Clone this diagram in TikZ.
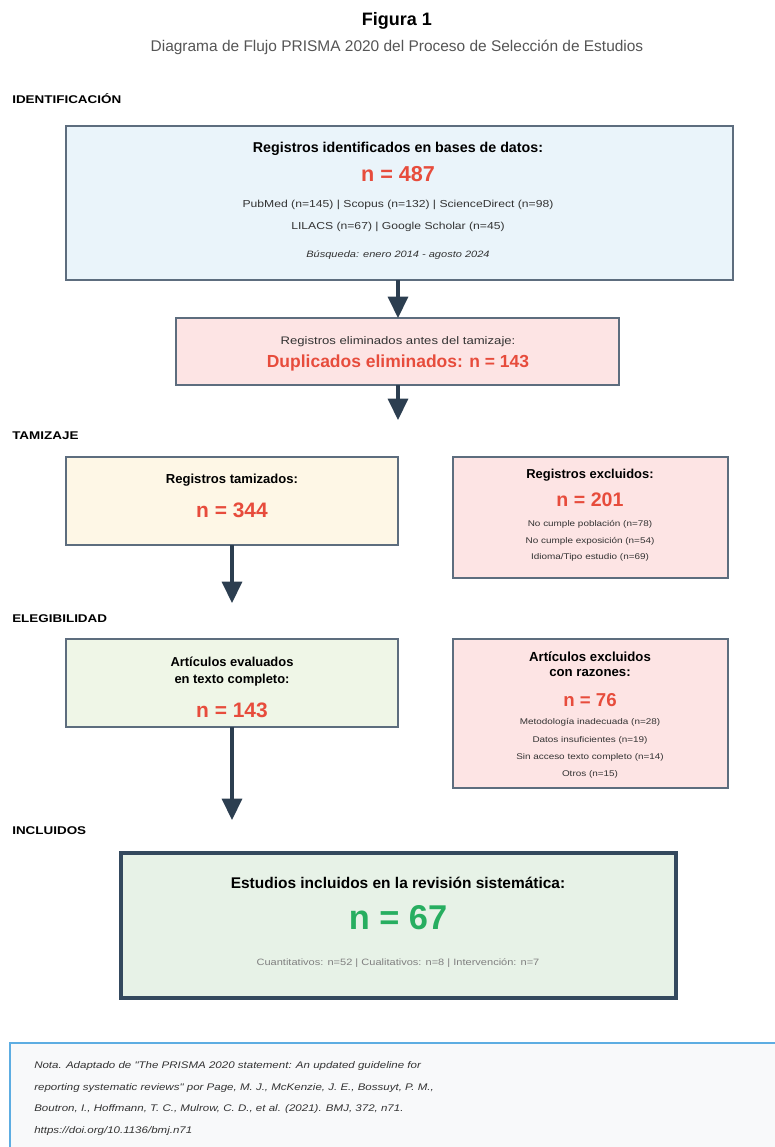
\documentclass[tikz,border=0pt]{standalone}
\usepackage{fontspec}
\setmainfont{Liberation Sans}
\newfontfamily\widefont[FakeStretch=1.2]{Liberation Sans}
\usetikzlibrary{arrows.meta}
\definecolor{bordc}{HTML}{5D6D7E}
\definecolor{blfill}{HTML}{EAF4FA}
\definecolor{pkfill}{HTML}{FDE4E4}
\definecolor{crfill}{HTML}{FEF7E6}
\definecolor{gnfill}{HTML}{EFF6E7}
\definecolor{incfill}{HTML}{E7F2E7}
\definecolor{redn}{HTML}{E74C3C}
\definecolor{greenn}{HTML}{27AE60}
\definecolor{arrc}{HTML}{2C3E50}
\definecolor{incbord}{HTML}{34495E}
\definecolor{notefill}{HTML}{F8F9FA}
\definecolor{notebord}{HTML}{5DADE2}
\definecolor{subgray}{HTML}{555555}
\definecolor{txtgray}{HTML}{333333}
\newcommand{\fs}[1]{\fontsize{#1}{#1}\selectfont}
\tikzset{
  box/.style={draw=bordc, line width=1.6pt},
  flowarrow/.style={draw=arrc, line width=2.6pt, -{Triangle[width=15pt,length=16pt]}},
  seclabel/.style={anchor=west, inner sep=0pt, font=\widefont\bfseries\fs{8.4pt}, text=black},
  txt/.style={anchor=center, inner sep=0pt},
  small/.style={txt, font=\widefont\fs{6.2pt}, text=txtgray},
  notetxt/.style={anchor=west, inner sep=0pt, font=\widefont\itshape\fs{7.2pt}, text=txtgray},
}
\begin{document}
\begin{tikzpicture}[x=0.75pt,y=-0.75pt]
\useasboundingbox (0,0) rectangle (775,1147);
% title
\node[txt, font=\bfseries\fs{13.5pt}] (title) at (397,21) {Figura 1};
\node[txt, font=\fs{11.6pt}, text=subgray] (subtitle) at (397,47) {Diagrama de Flujo PRISMA 2020 del Proceso de Selección de Estudios};

% section labels
\node[seclabel] (lid) at (12,99) {IDENTIFICACIÓN};
\node[seclabel] (ltam) at (12,436) {TAMIZAJE};
\node[seclabel] (leleg) at (12,619) {ELEGIBILIDAD};
\node[seclabel] (linc) at (12,831) {INCLUIDOS};

% box 1
\path[box, fill=blfill] (66,126) rectangle (733,280);
\coordinate (b1s) at (398,280);
\node[txt, font=\bfseries\fs{10.7pt}] (b1t) at (398,149) {Registros identificados en bases de datos:};
\node[txt, font=\bfseries\fs{16.2pt}, text=redn] (b1n) at (398,174) {n = 487};
\node[txt, font=\widefont\fs{7.6pt}, text=txtgray] (b1a) at (398,205) {PubMed (n=145) | Scopus (n=132) | ScienceDirect (n=98)};
\node[txt, font=\widefont\fs{7.6pt}, text=txtgray] (b1b) at (398,227) {LILACS (n=67) | Google Scholar (n=45)};
\node[txt, font=\widefont\itshape\fs{6.9pt}, text=txtgray] (b1c) at (398,255) {Búsqueda: enero 2014 - agosto 2024};

% box 2
\path[box, fill=pkfill] (176,318) rectangle (619,385);
\coordinate (b2n) at (398,318);
\coordinate (b2s) at (398,385);
\node[txt, font=\widefont\fs{8.2pt}, text=txtgray] (b2t) at (398,342) {Registros eliminados antes del tamizaje:};
\node[txt, font=\bfseries\fs{13.1pt}, text=redn] (b2n2) at (398,363) {Duplicados eliminados: n = 143};
\coordinate (a2end) at (398,420);

% box 3
\path[box, fill=crfill] (66,457) rectangle (398,545);
\coordinate (b3s) at (232,545);
\node[txt, font=\bfseries\fs{9.8pt}] (b3t) at (232,480) {Registros tamizados:};
\node[txt, font=\bfseries\fs{15.7pt}, text=redn] (b3n) at (232,510) {n = 344};
\coordinate (a3end) at (232,603);

% box 4
\path[box, fill=pkfill] (453,457) rectangle (728,578);
\node[txt, font=\bfseries\fs{9.7pt}] (b4t) at (590,475) {Registros excluidos:};
\node[txt, font=\bfseries\fs{14.7pt}, text=redn] (b4n) at (590,500) {n = 201};
\node[small] (b4a) at (590,524) {No cumple población (n=78)};
\node[small] (b4b) at (590,541) {No cumple exposición (n=54)};
\node[small] (b4c) at (590,557) {Idioma/Tipo estudio (n=69)};

% box 5
\path[box, fill=gnfill] (66,639) rectangle (398,727);
\coordinate (b5s) at (232,727);
\node[txt, font=\bfseries\fs{9.7pt}] (b5t) at (232,662) {Artículos evaluados};
\node[txt, font=\bfseries\fs{9.7pt}] (b5u) at (232,680) {en texto completo:};
\node[txt, font=\bfseries\fs{15.7pt}, text=redn] (b5n) at (232,710) {n = 143};
\coordinate (a5end) at (232,820);

% box 6
\path[box, fill=pkfill] (453,639) rectangle (728,788);
\node[txt, font=\bfseries\fs{9.9pt}] (b6t) at (590,657) {Artículos excluidos};
\node[txt, font=\bfseries\fs{9.9pt}] (b6u) at (590,673) {con razones:};
\node[txt, font=\bfseries\fs{14pt}, text=redn] (b6n) at (590,700) {n = 76};
\node[small] (b6a) at (590,722) {Metodología inadecuada (n=28)};
\node[small] (b6b) at (590,740) {Datos insuficientes (n=19)};
\node[small] (b6c) at (590,757) {Sin acceso texto completo (n=14)};
\node[small] (b6d) at (590,774) {Otros (n=15)};

% box 7
\path[draw=incbord, line width=2.4pt, fill=incfill] (121,853) rectangle (676,998);
\node[txt, font=\bfseries\fs{11.6pt}] (b7t) at (398,883) {Estudios incluidos en la revisión sistemática:};
\node[txt, font=\bfseries\fs{25.8pt}, text=greenn] (b7n) at (398,918) {n = 67};
\node[txt, font=\widefont\fs{6.9pt}, text=gray] (b7a) at (398,963) {Cuantitativos: n=52 | Cualitativos: n=8 | Intervención: n=7};

% arrows
\draw[flowarrow] (b1s) -- (b2n);
\draw[flowarrow] (b2s) -- (a2end);
\draw[flowarrow] (b3s) -- (a3end);
\draw[flowarrow] (b5s) -- (a5end);

% note
\path[draw=notebord, line width=1.5pt, fill=notefill] (10,1043) rectangle (790,1160);
\node[notetxt] (n1) at (34,1066) {Nota. Adaptado de "The PRISMA 2020 statement: An updated guideline for};
\node[notetxt] (n2) at (34,1088) {reporting systematic reviews" por Page, M. J., McKenzie, J. E., Bossuyt, P. M.,};
\node[notetxt] (n3) at (34,1109) {Boutron, I., Hoffmann, T. C., Mulrow, C. D., et al. (2021). BMJ, 372, n71.};
\node[notetxt] (n4) at (34,1131) {https://doi.org/10.1136/bmj.n71};
\end{tikzpicture}
\end{document}
